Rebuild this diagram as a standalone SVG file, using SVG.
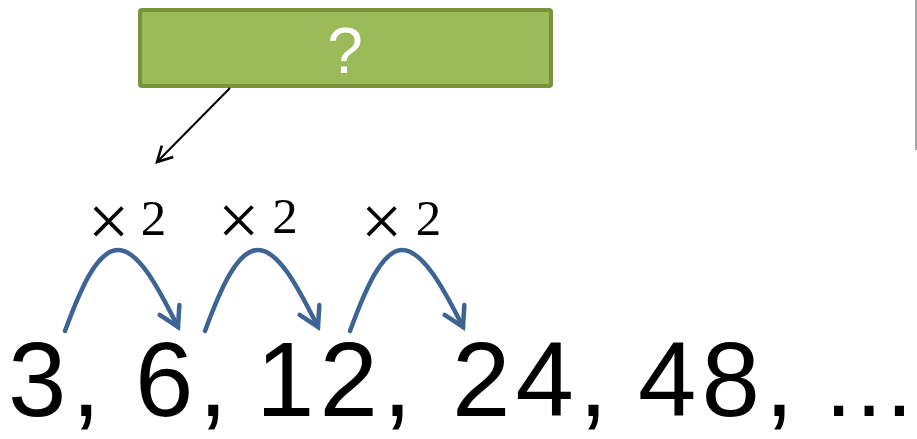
<svg xmlns="http://www.w3.org/2000/svg" width="917" height="439" viewBox="0 0 917 439">
<style>
.box{fill:#9BBB59;stroke:#77933C;stroke-width:4}
.q{font-family:"Liberation Sans","Open Sans",sans-serif;font-size:64px;fill:#fff;text-anchor:middle}
.two{font-family:"Liberation Serif","DejaVu Serif",serif;font-size:51px;fill:#000;text-anchor:middle}
.times{font-family:"Liberation Serif","DejaVu Serif",serif;font-size:74px;fill:#000;text-anchor:middle}
.arc{fill:none;stroke:#3E6494;stroke-width:4.5;stroke-linecap:round;marker-end:url(#blueHead)}
.seq{font-family:"Liberation Sans",Arial,sans-serif;font-size:105px;fill:#000;letter-spacing:5px}
.dots{font-family:"Liberation Sans",Arial,sans-serif;font-size:96px;fill:#000;text-anchor:end}
.ptr{stroke:#000;stroke-width:2;fill:none;marker-end:url(#blackHead)}
</style>
<defs>
<marker id="blueHead" markerUnits="userSpaceOnUse" markerWidth="40" markerHeight="40" viewBox="-25 -20 30 40" refX="0" refY="0" orient="auto">
<path d="M-19,-11 L0,0 L-19,11" fill="none" stroke="#3E6494" stroke-width="4.5" stroke-linecap="round" stroke-linejoin="miter"/>
</marker>
<marker id="blackHead" markerUnits="userSpaceOnUse" markerWidth="30" markerHeight="30" viewBox="-20 -15 25 30" refX="0" refY="0" orient="auto">
<path d="M-15,-8 L0,0 L-15,8" fill="none" stroke="#000" stroke-width="2.5"/>
</marker>
</defs>
<line x1="916" y1="0" x2="916" y2="150" stroke="#A6A6A6" stroke-width="2"/>
<g id="question">
<rect class="box" x="140" y="10" width="411" height="76" rx="2"/>
<text class="q" x="345" y="73">?</text>
</g>
<g id="connectors">
<line class="ptr" x1="230" y1="88" x2="157" y2="162"/>
<path class="arc" d="M65,331 C80,290 97,250 118,250 C138,250 157,285 178,327"/>
<path class="arc" d="M205,331 C220,290 237,250 258,250 C278,250 297,285 318,327"/>
<path class="arc" d="M350,331 C365,290 382,250 402,250 C422,250 442,285 463,327"/>
</g>
<g id="labels">
<text class="times" x="108.5" y="246">×</text>
<text class="two" x="153.5" y="235">2</text>
<text class="times" x="238.5" y="245">×</text>
<text class="two" x="285" y="233">2</text>
<text class="times" x="381.5" y="246">×</text>
<text class="two" x="428.5" y="235">2</text>
</g>
<g id="sequence">
<text class="seq" y="416"><tspan x="8">3,</tspan><tspan x="135">6,</tspan><tspan x="256">12,</tspan><tspan x="452">24,</tspan><tspan x="638">48,</tspan></text>
<text class="dots" x="917" y="416">…</text>
</g>
</svg>
